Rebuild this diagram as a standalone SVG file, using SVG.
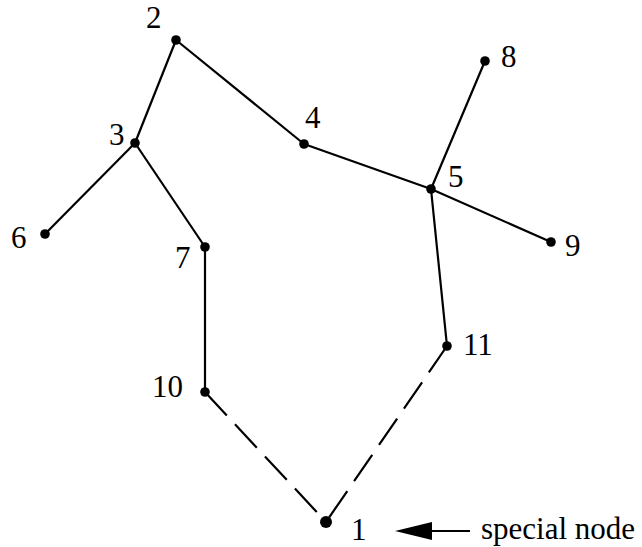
<svg xmlns="http://www.w3.org/2000/svg" width="642" height="547" viewBox="0 0 642 547">
<style>
.e{stroke:#000;stroke-width:2.2;fill:none;stroke-linecap:butt}
.d{stroke-dasharray:32 12}
.n{fill:#000}
.t{font-family:"Liberation Serif","Times New Roman",serif;font-size:31px;fill:#000}
</style>
<rect width="642" height="547" fill="#fff"/>
<g id="connectors">
<line class="e" x1="176" y1="40" x2="135" y2="143"/>
<line class="e" x1="176" y1="40" x2="304" y2="144"/>
<line class="e" x1="135" y1="143" x2="45" y2="234"/>
<line class="e" x1="135" y1="143" x2="205" y2="247"/>
<line class="e" x1="205" y1="247" x2="205" y2="392"/>
<line class="e" x1="304" y1="144" x2="431" y2="189"/>
<line class="e" x1="431" y1="189" x2="485" y2="61"/>
<line class="e" x1="431" y1="189" x2="551" y2="242"/>
<line class="e" x1="431" y1="189" x2="447" y2="346"/>
<line class="e d" x1="205" y1="392" x2="326" y2="522"/>
<line class="e d" x1="447" y1="346" x2="326" y2="522"/>
</g>
<g id="node1"><circle class="n" cx="326" cy="522" r="6"/><text class="t" x="351" y="540">1</text></g>
<g id="node2"><circle class="n" cx="176" cy="40" r="4.8"/><text class="t" x="146" y="28">2</text></g>
<g id="node3"><circle class="n" cx="135" cy="143" r="4.8"/><text class="t" x="109" y="145">3</text></g>
<g id="node4"><circle class="n" cx="304" cy="144" r="4.8"/><text class="t" x="305" y="128">4</text></g>
<g id="node5"><circle class="n" cx="431" cy="189" r="4.8"/><text class="t" x="448" y="187">5</text></g>
<g id="node6"><circle class="n" cx="45" cy="234" r="4.8"/><text class="t" x="11" y="248">6</text></g>
<g id="node7"><circle class="n" cx="205" cy="247" r="4.8"/><text class="t" x="175" y="268">7</text></g>
<g id="node8"><circle class="n" cx="485" cy="61" r="4.8"/><text class="t" x="501" y="67">8</text></g>
<g id="node9"><circle class="n" cx="551" cy="242" r="4.8"/><text class="t" x="565" y="256">9</text></g>
<g id="node10"><circle class="n" cx="205" cy="392" r="4.8"/><text class="t" x="152" y="397">10</text></g>
<g id="node11"><circle class="n" cx="447" cy="346" r="4.8"/><text class="t" x="463" y="355">11</text></g>
<g id="label-special">
<polygon class="n" points="395,531 432,522 432,540"/>
<line class="e" x1="430" y1="531" x2="470" y2="531"/>
<text class="t" x="481" y="539">special node</text>
</g>
</svg>
